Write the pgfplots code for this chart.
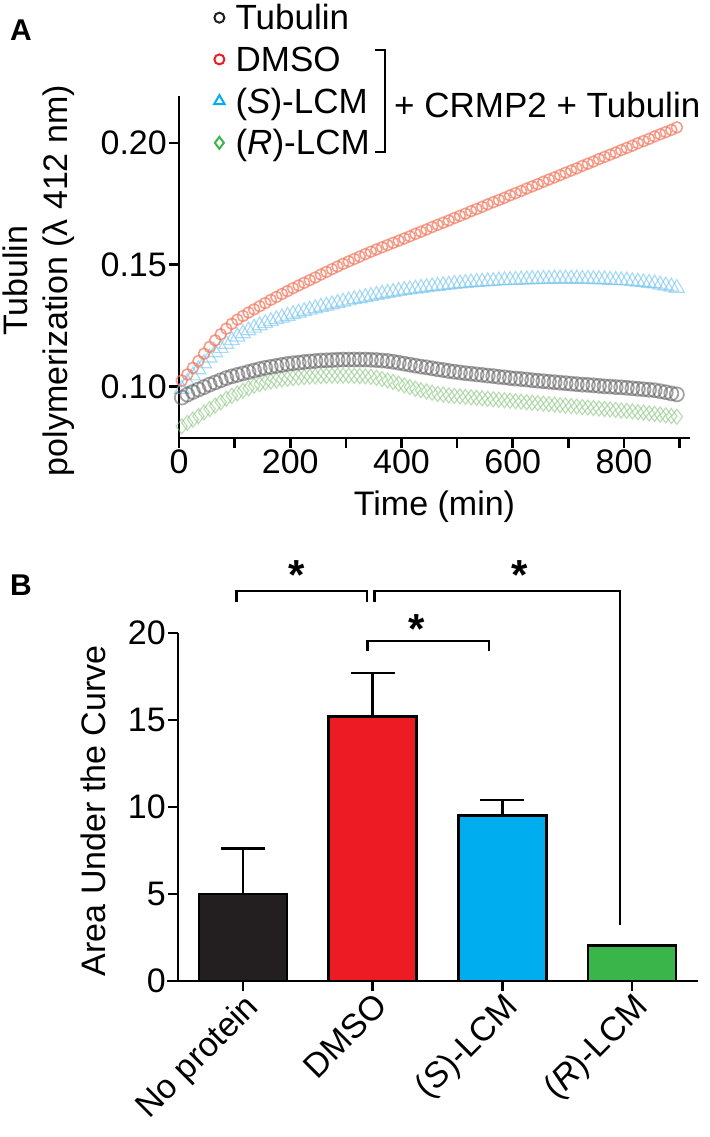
\documentclass[border=0pt]{standalone}
\usepackage{fontspec}
\setmainfont{Liberation Sans}
\usepackage{pgfplots}
\usepackage{pgfplotstable}
\pgfplotsset{compat=1.18}
\definecolor{cBlack}{RGB}{35,31,32}
\definecolor{cRed}{RGB}{237,28,36}
\definecolor{cBlue}{RGB}{0,174,239}
\definecolor{cGreen}{RGB}{57,181,74}
\definecolor{mRed}{RGB}{240,125,100}
\definecolor{mBlue}{RGB}{115,195,238}
\definecolor{mBlueF}{RGB}{170,220,245}
\definecolor{mGreen}{RGB}{140,200,130}
\definecolor{mGreenF}{RGB}{185,225,175}
\definecolor{mGray}{RGB}{90,90,90}

\pgfplotstableread{
t tub dmso slcm rlcm
5 0.0955 0.1025 0.0990 0.0837
15 0.0967 0.1050 0.1018 0.0851
25 0.0978 0.1077 0.1045 0.0865
35 0.0988 0.1105 0.1070 0.0879
45 0.0998 0.1135 0.1095 0.0894
55 0.1008 0.1163 0.1118 0.0908
65 0.1017 0.1190 0.1140 0.0922
75 0.1026 0.1215 0.1158 0.0936
85 0.1035 0.1238 0.1175 0.0950
95 0.1042 0.1258 0.1190 0.0962
105 0.1048 0.1275 0.1205 0.0972
115 0.1054 0.1290 0.1218 0.0983
125 0.1060 0.1304 0.1230 0.0993
135 0.1066 0.1317 0.1241 0.1003
145 0.1072 0.1330 0.1251 0.1010
155 0.1077 0.1343 0.1260 0.1016
165 0.1081 0.1356 0.1268 0.1021
175 0.1085 0.1368 0.1276 0.1025
185 0.1089 0.1380 0.1283 0.1029
195 0.1093 0.1392 0.1290 0.1032
205 0.1096 0.1404 0.1297 0.1035
215 0.1098 0.1415 0.1303 0.1037
225 0.1101 0.1426 0.1309 0.1039
235 0.1103 0.1437 0.1315 0.1041
245 0.1105 0.1448 0.1321 0.1042
255 0.1107 0.1460 0.1327 0.1043
265 0.1108 0.1471 0.1332 0.1044
275 0.1109 0.1482 0.1337 0.1045
285 0.1110 0.1493 0.1343 0.1045
295 0.1111 0.1504 0.1348 0.1045
305 0.1111 0.1514 0.1353 0.1045
315 0.1111 0.1524 0.1358 0.1044
325 0.1111 0.1534 0.1362 0.1043
335 0.1111 0.1544 0.1367 0.1042
345 0.1110 0.1554 0.1371 0.1040
355 0.1109 0.1563 0.1376 0.1036
365 0.1107 0.1572 0.1380 0.1031
375 0.1105 0.1581 0.1384 0.1025
385 0.1102 0.1590 0.1388 0.1019
395 0.1098 0.1599 0.1392 0.1012
405 0.1094 0.1608 0.1396 0.1005
415 0.1090 0.1617 0.1399 0.0998
425 0.1086 0.1627 0.1402 0.0991
435 0.1082 0.1636 0.1405 0.0985
445 0.1079 0.1645 0.1408 0.0980
455 0.1075 0.1655 0.1411 0.0975
465 0.1071 0.1664 0.1413 0.0970
475 0.1068 0.1673 0.1416 0.0967
485 0.1064 0.1682 0.1418 0.0964
495 0.1061 0.1692 0.1421 0.0962
505 0.1058 0.1701 0.1423 0.0960
515 0.1055 0.1710 0.1425 0.0958
525 0.1053 0.1720 0.1427 0.0956
535 0.1050 0.1729 0.1429 0.0954
545 0.1048 0.1738 0.1430 0.0952
555 0.1045 0.1748 0.1432 0.0950
565 0.1043 0.1757 0.1433 0.0948
575 0.1040 0.1766 0.1435 0.0946
585 0.1038 0.1775 0.1436 0.0944
595 0.1035 0.1785 0.1437 0.0942
605 0.1033 0.1794 0.1438 0.0940
615 0.1031 0.1803 0.1439 0.0938
625 0.1029 0.1813 0.1440 0.0936
635 0.1026 0.1822 0.1441 0.0934
645 0.1024 0.1831 0.1441 0.0932
655 0.1022 0.1841 0.1442 0.0930
665 0.1020 0.1850 0.1442 0.0928
675 0.1018 0.1859 0.1443 0.0926
685 0.1016 0.1868 0.1443 0.0924
695 0.1014 0.1878 0.1443 0.0922
705 0.1012 0.1887 0.1443 0.0920
715 0.1010 0.1896 0.1443 0.0918
725 0.1008 0.1906 0.1442 0.0916
735 0.1007 0.1915 0.1442 0.0914
745 0.1005 0.1924 0.1441 0.0912
755 0.1003 0.1934 0.1441 0.0910
765 0.1001 0.1943 0.1440 0.0908
775 0.1000 0.1952 0.1438 0.0906
785 0.0998 0.1961 0.1437 0.0904
795 0.0997 0.1971 0.1436 0.0902
805 0.0995 0.1980 0.1435 0.0900
815 0.0993 0.1989 0.1432 0.0898
825 0.0991 0.1999 0.1430 0.0895
835 0.0989 0.2008 0.1428 0.0893
845 0.0987 0.2017 0.1425 0.0890
855 0.0985 0.2027 0.1423 0.0888
865 0.0981 0.2036 0.1418 0.0885
875 0.0977 0.2045 0.1414 0.0882
885 0.0972 0.2054 0.1410 0.0879
895 0.0968 0.2064 0.1405 0.0876
}\kinetics

\begin{document}
\fontsize{34}{40}\selectfont
\begin{tikzpicture}
\useasboundingbox (0pt,0pt) rectangle (709pt,1137pt);

% ---------------- Panel A ----------------
\begin{axis}[
  at={(179pt,699pt)}, anchor=south west,
  width=511pt, height=342pt, scale only axis,
  xmin=0, xmax=918.6, ymin=0.0789, ymax=0.2193,
  axis lines*=left,
  axis line style={line width=2.6pt, black},
  tick style={line width=2.6pt, black},
  tick align=outside, major tick length=10pt,
  xtick={0,100,...,900}, xticklabels={0,,200,,400,,600,,800,},
  ytick={0.10,0.15,0.20}, yticklabels={0.10,0.15,0.20},
  /pgf/number format/assume math mode=true,
  font=\fontsize{34}{40}\selectfont,
  yticklabel style={inner sep=2pt},
  xticklabel style={inner sep=2pt},
  clip=false,
  xlabel={Time (min)},
  xlabel style={at={(axis description cs:0.5,-0.202)}, anchor=center},
  ylabel={Tubulin\\polymerization (λ 412 nm)},
  ylabel style={at={(axis description cs:-0.274,0.46)}, anchor=center, align=center},
  legend style={at={(axis description cs:0.0685,1.2646)}, anchor=north west,
    draw=none, fill=none, inner sep=0pt, row sep=17.7pt, column sep=11pt,
    font=\fontsize{35}{40}\selectfont,
    nodes={inner sep=0pt, text height=24pt, text depth=0pt}},
  legend cell align=left,
]
\addlegendimage{only marks, mark=o, mark size=5pt, line width=2pt, cBlack}
\addlegendimage{only marks, mark=o, mark size=5pt, line width=2pt, cRed}
\addlegendimage{only marks, mark=triangle, mark size=6pt, line width=2pt, cBlue}
\addlegendimage{only marks, mark=diamond, mark size=6pt, line width=2pt, cGreen}
\addlegendentry{Tubulin}
\addlegendentry{DMSO}
\addlegendentry{(\textit{S})-LCM}
\addlegendentry{(\textit{R})-LCM}

\addplot[only marks, forget plot, mark=diamond, mark size=7.5pt,
  mark options={draw=mGreen, fill=mGreenF, line width=1.2pt, draw opacity=0.6, fill opacity=0.35}]
  table[x=t, y=rlcm]{\kinetics};
\addplot[only marks, forget plot, mark=triangle, mark size=8.5pt,
  mark options={draw=mBlue, fill=mBlueF, line width=1.2pt, draw opacity=0.6, fill opacity=0.35}]
  table[x=t, y=slcm]{\kinetics};
\addplot[only marks, forget plot, mark=o, mark size=7pt,
  mark options={draw=mGray, fill=gray!35, line width=1.8pt, draw opacity=0.55, fill opacity=0.25}]
  table[x=t, y=tub]{\kinetics};
\addplot[only marks, forget plot, mark=o, mark size=5.5pt,
  mark options={draw=mRed, line width=1.6pt, draw opacity=0.75}]
  table[x=t, y=dmso]{\kinetics};
\end{axis}

% legend bracket and text
\draw[line width=2.5pt, line cap=rect] (376pt,1087pt) -- (385pt,1087pt) -- (385pt,985pt) -- (376pt,985pt);
\node[anchor=west, inner sep=0pt, font=\fontsize{35}{40}\selectfont] at (394pt,1032pt) {+ CRMP2 + Tubulin};
\node[font=\fontsize{30}{30}\selectfont\bfseries] at (21pt,1107pt) {A};
\node[font=\fontsize{30}{30}\selectfont\bfseries] at (21pt,552pt) {B};

% ---------------- Panel B ----------------
\begin{axis}[
  at={(178pt,156pt)}, anchor=south west,
  width=520pt, height=348pt, scale only axis,
  xmin=-0.5, xmax=3.508, ymin=0, ymax=20,
  axis lines*=left,
  axis line style={line width=2.6pt, black},
  tick style={line width=2.6pt, black},
  tick align=outside, major tick length=10pt,
  xtick={0,1,2,3},
  xticklabels={No protein, DMSO, (\textit{S})-LCM, (\textit{R})-LCM},
  xticklabel style={rotate=45, anchor=north east, inner sep=0pt},
  ytick={0,5,10,15,20}, yticklabels={0,5,10,15,20},
  yticklabel style={inner sep=2pt},
  /pgf/number format/assume math mode=true,
  font=\fontsize{34}{40}\selectfont,
  ylabel={Area Under the Curve},
  ylabel style={at={(axis description cs:-0.163,0.489)}, anchor=center},
  ybar, bar width=88pt, bar shift=0pt,
  clip=false,
  error bars/y dir=plus, error bars/y explicit,
  error bars/error bar style={line width=2.6pt, black},
  error bars/error mark options={rotate=90, mark size=22pt, line width=2.6pt, black},
]
\addplot[fill=cBlack, draw=black, line width=2.6pt] coordinates {(0,5.0) +- (0,2.6)};
\addplot[fill=cRed, draw=black, line width=2.6pt] coordinates {(1,15.2) +- (0,2.5)};
\addplot[fill=cBlue, draw=black, line width=2.6pt] coordinates {(2,9.5) +- (0,0.9)};
\addplot[fill=cGreen, draw=black, line width=2.6pt, error bars/y dir=none] coordinates {(3,2.05)};

\draw[line width=2.6pt] (axis cs:-0.5,0) -- ++(-11pt,0pt);
\draw[line width=2.4pt] (axis cs:-0.05,21.78) -- (axis cs:-0.05,22.41) -- (axis cs:0.956,22.41) -- (axis cs:0.956,21.78);
\draw[line width=2.4pt] (axis cs:1.014,21.78) -- (axis cs:1.014,22.41) -- (axis cs:2.907,22.41) -- (axis cs:2.907,3.2);
\draw[line width=2.4pt] (axis cs:0.961,18.97) -- (axis cs:0.961,19.54) -- (axis cs:1.897,19.54) -- (axis cs:1.897,18.97);
\node[anchor=north, inner sep=0pt, font=\fontsize{42}{42}\selectfont\bfseries] at (axis cs:0.416,24.2) {*};
\node[anchor=north, inner sep=0pt, font=\fontsize{42}{42}\selectfont\bfseries] at (axis cs:2.136,24.2) {*};
\node[anchor=north, inner sep=0pt, font=\fontsize{42}{42}\selectfont\bfseries] at (axis cs:1.342,21.06) {*};
\end{axis}
\end{tikzpicture}
\end{document}
